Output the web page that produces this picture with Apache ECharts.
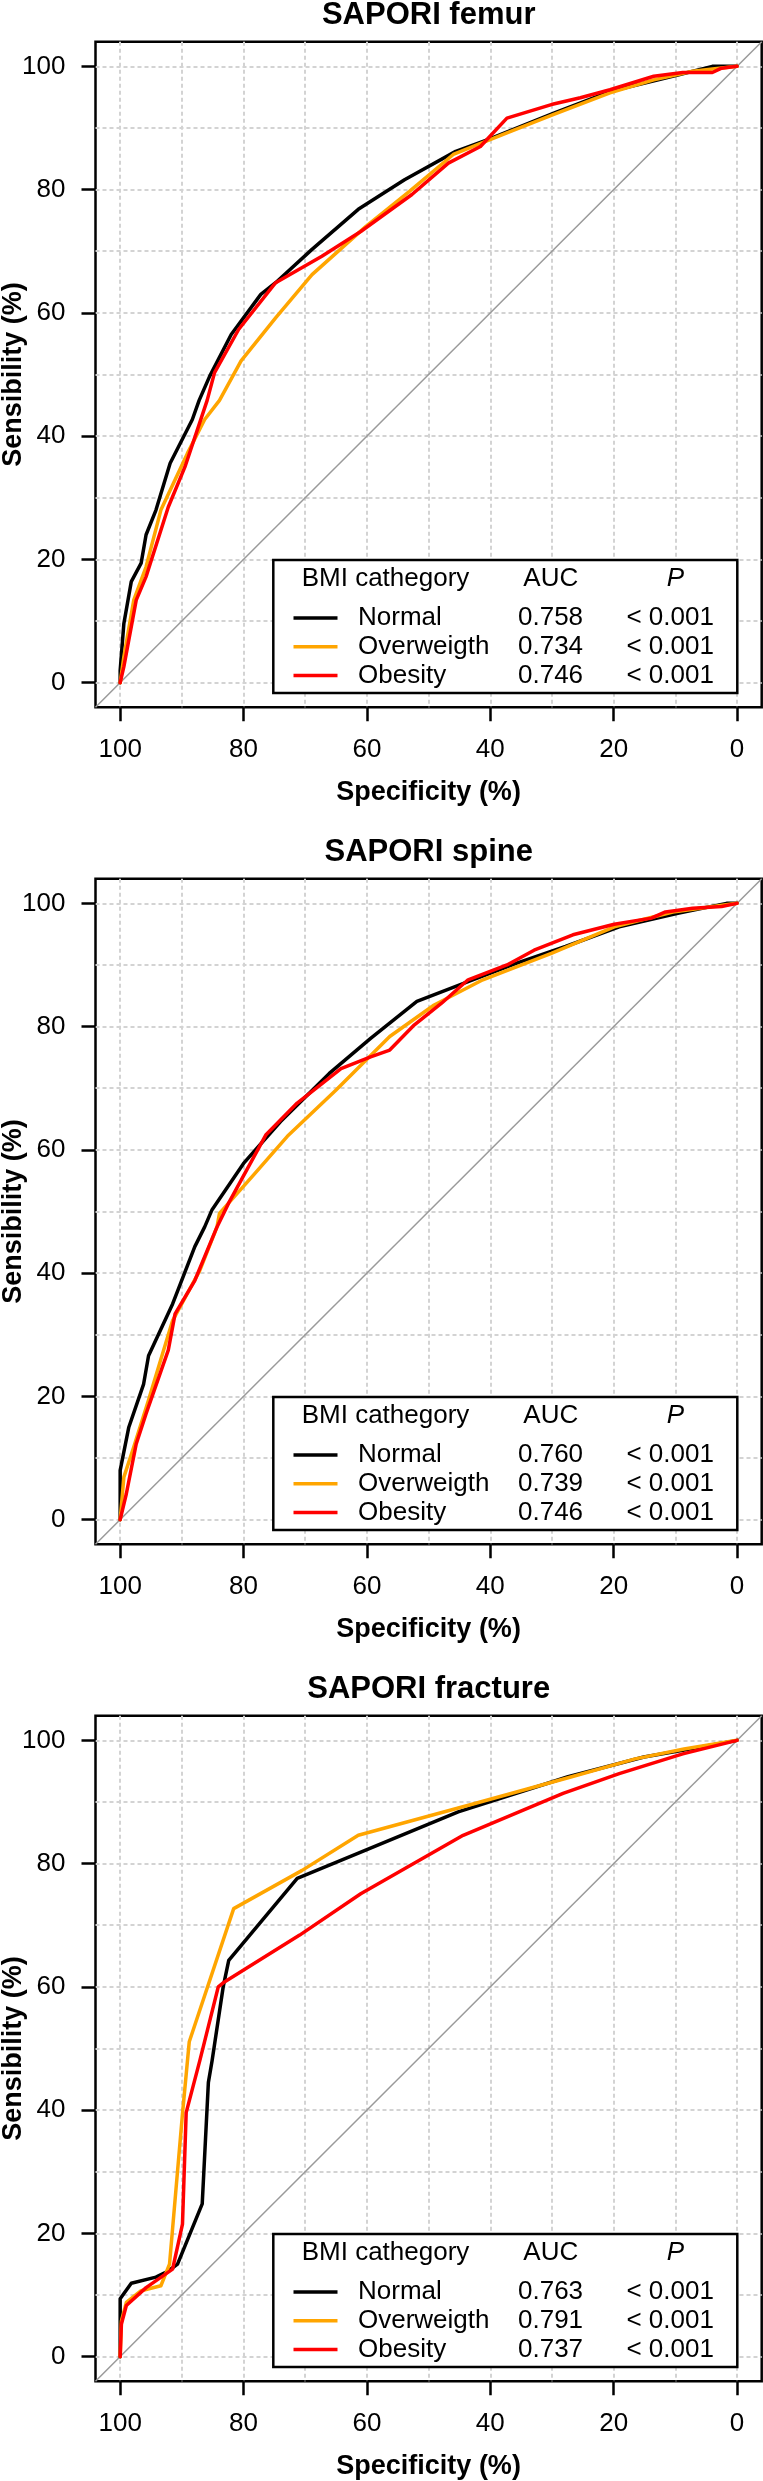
<!DOCTYPE html>
<html><head><meta charset="utf-8">
<script src="https://cdn.jsdelivr.net/npm/echarts@6/dist/echarts.min.js"></script>
<style>html,body{margin:0;padding:0;background:#fff}#chart{width:763px;height:2481px}</style>
</head><body><div id="chart"></div>
<script>
// ---------------- data ----------------
const panelTitles = ['SAPORI femur', 'SAPORI spine', 'SAPORI fracture'];
const groups = ['Normal', 'Overweigth', 'Obesity'];
const legendHeader = ['BMI cathegory', 'AUC', 'P'];
const aucFemur = ['0.758', '0.734', '0.746'];
const aucSpine = ['0.760', '0.739', '0.746'];
const aucFracture = ['0.763', '0.791', '0.737'];
const pFemur = ['< 0.001', '< 0.001', '< 0.001'];
const pSpine = ['< 0.001', '< 0.001', '< 0.001'];
const pFracture = ['< 0.001', '< 0.001', '< 0.001'];
const axisTickValues = [0, 20, 40, 60, 80, 100];
const gridValues = [0, 10, 20, 30, 40, 50, 60, 70, 80, 90, 100];
const diagonal = [[104, -4], [-4, 104]]; // chance line sens = 100 - spec across the axis range

// [specificity %, sensitivity %]
const femurNormal = [[100,0],[100,2],[99.4,9.6],[98.2,16.4],[96.6,19.4],[95.8,24],[94.2,28],[91.9,35.6],[88.3,42.7],[87.2,45.8],[85.5,49.7],[82,56.5],[77.2,63],[74.8,64.9],[68.9,70.3],[61.4,76.8],[53.9,81.6],[45.6,86.2],[40.4,88.1],[29.7,92.4],[20.3,96],[9.6,98.6],[4,100],[0,100]];
const femurOverweight = [[100,0],[99.4,4.2],[97.8,13.4],[95.8,18.8],[93.4,28],[89.1,37.2],[86.3,42.7],[83.9,45.8],[80.4,52.2],[74.8,59.2],[68.9,66.2],[60.2,74],[53.1,79.7],[46,85.7],[37.3,89.2],[29.7,92.2],[20.6,95.7],[13.5,97.8],[7.2,99.2],[0,100]];
const femurObesity = [[100,0],[99.4,2.6],[97.4,13.4],[95.8,17.2],[92.2,28.5],[89.5,35],[85.9,45.8],[84.7,50.3],[80.8,57.3],[74.8,64.9],[67.3,69.2],[61,73.2],[52.7,79.2],[46.8,84.3],[41.6,87],[37.3,91.6],[30.1,93.8],[25.4,94.9],[20.6,96.2],[13.5,98.4],[8.8,99],[4,99],[2.5,99.7],[0,100]];

const spineNormal = [[100,0],[100,8],[98.6,15],[96.2,22],[95.4,26.6],[91.5,35],[87.9,44.3],[86.3,47.5],[85.1,50.3],[80,57.8],[74,64.6],[66.1,72.4],[59.4,78.1],[51.9,84.1],[43.6,87.3],[35.7,90.3],[27.8,93],[19.1,96.2],[9.6,98.4],[1.7,100],[0,100]];
const spineOverweight = [[100,0],[99.4,6.9],[97.8,11.8],[95.4,19.4],[91.5,32.3],[87.1,40.4],[84.3,47.5],[83.9,49.7],[78.4,55.9],[72.9,62.2],[65,69.7],[56.3,78.4],[49.1,83.5],[41.2,87.6],[30.1,91.9],[19.9,96.2],[10.4,98.6],[0,100]];
const spineObesity = [[100,0],[99,4.2],[97.4,12.3],[95.8,17.2],[92.2,27.5],[91.1,33.4],[87.9,38.8],[84.3,47.5],[82.4,51.4],[76.4,62.4],[71.3,67.6],[64.2,73.2],[59.4,75.1],[56.3,76.2],[52.3,80.3],[47.9,83.8],[43.6,87.6],[37.3,90],[32.9,92.4],[26.6,94.9],[19.9,96.6],[13.9,97.6],[11.6,98.6],[7.2,99.2],[2.5,99.5],[0,100]];

const fractureNormal = [[100,0],[100,9.4],[98.2,11.9],[94.2,12.9],[92.2,13.9],[90.7,15],[86.7,24.8],[85.7,44.5],[85.1,48],[83.3,60],[82.4,64.3],[71.3,77.6],[60.2,82.2],[45.2,88.4],[27.4,94.1],[15.1,97.3],[8.8,98.4],[0,100]];
const fractureOverweight = [[100,0],[99.8,5.8],[99,8.8],[96.6,10.7],[93.4,11.5],[92,15],[89.9,39.4],[88.8,51.1],[81.6,72.7],[70.5,78.9],[61.4,84.6],[43.4,89.5],[26.8,94.1],[16.5,97],[8.6,98.6],[0,100]];
const fractureObesity = [[100,0],[99.8,5.3],[99,8.3],[95.8,11.2],[91.5,14.2],[89.9,21.5],[89.3,39.6],[87.1,48],[84.1,60],[83.1,60.8],[70.9,68.4],[61,75.1],[44.4,84.6],[28.2,91.4],[19.1,94.6],[8.8,97.8],[0,100]];

// ---------------- assembly ----------------
const panels = [
  { title: panelTitles[0], curves: [femurNormal, femurOverweight, femurObesity], auc: aucFemur, p: pFemur },
  { title: panelTitles[1], curves: [spineNormal, spineOverweight, spineObesity], auc: aucSpine, p: pSpine },
  { title: panelTitles[2], curves: [fractureNormal, fractureOverweight, fractureObesity], auc: aucFracture, p: pFracture }
];
const colors = ['#000000', '#FFA500', '#FF0000'];
const FONT = '"Liberation Sans", Arial, Helvetica, sans-serif';
const PANEL_H = 837, GL = 95.5, GT = 41.7, GW = 666.2, GH = 665.6;

const grid = [], xAxis = [], yAxis = [], series = [], legend = [], elements = [];
panels.forEach((pn, i) => {
  const off = i * PANEL_H;
  grid.push({ left: GL, top: GT + off, width: GW, height: GH, show: true, borderColor: '#000', borderWidth: 2.5,
              backgroundColor: 'rgba(0,0,0,0)', containLabel: false, outerBoundsMode: 'none' });
  xAxis.push({
    gridIndex: i, type: 'value', inverse: true, min: -4, max: 104, position: 'bottom',
    axisLine: { show: false, onZero: false },
    axisTick: { show: true, inside: false, length: 14, customValues: axisTickValues, lineStyle: { color: '#000', width: 2.5 } },
    axisLabel: { customValues: axisTickValues, margin: 29.5, fontSize: 26, color: '#000', fontFamily: FONT },
    splitLine: { show: false },
    name: 'Specificity (%)', nameLocation: 'middle', nameGap: 72, nameMoveOverlap: false,
    nameTextStyle: { fontSize: 27, fontWeight: 'bold', color: '#000', fontFamily: FONT }
  });
  xAxis.push({
    gridIndex: i, type: 'value', inverse: true, min: -4, max: 104, position: 'top',
    axisLine: { show: false, onZero: false }, axisTick: { show: false, customValues: gridValues }, axisLabel: { show: false },
    splitLine: { show: true, lineStyle: { color: '#d3d3d3', width: 2, type: [4, 3] } }
  });
  yAxis.push({
    gridIndex: i, type: 'value', min: -4, max: 104, position: 'left',
    axisLine: { show: false, onZero: false },
    axisTick: { show: true, inside: false, length: 14, customValues: axisTickValues, lineStyle: { color: '#000', width: 2.5 } },
    axisLabel: { customValues: axisTickValues, margin: 30, fontSize: 26, color: '#000', fontFamily: FONT },
    splitLine: { show: false },
    name: 'Sensibility (%)', nameLocation: 'middle', nameGap: 68, nameMoveOverlap: false,
    nameTextStyle: { fontSize: 27, fontWeight: 'bold', color: '#000', fontFamily: FONT }
  });
  yAxis.push({
    gridIndex: i, type: 'value', min: -4, max: 104, position: 'right',
    axisLine: { show: false, onZero: false }, axisTick: { show: false, customValues: gridValues }, axisLabel: { show: false },
    splitLine: { show: true, lineStyle: { color: '#d3d3d3', width: 2, type: [4, 3] } }
  });
  series.push({
    type: 'line', name: 'chance', xAxisIndex: 2 * i, yAxisIndex: 2 * i, data: diagonal,
    showSymbol: false, silent: true, lineStyle: { color: '#9a9a9a', width: 1.5 }, z: 1
  });
  pn.curves.forEach((c, k) => {
    series.push({
      type: 'line', name: groups[k], xAxisIndex: 2 * i, yAxisIndex: 2 * i, data: c,
      showSymbol: false, silent: true, color: colors[k],
      lineStyle: { color: colors[k], width: 3.5, cap: 'round', join: 'round' }, z: 2 + k
    });
  });
  legend.push({
    orient: 'vertical', left: 293.5, top: 603.65 + off, padding: 0, itemGap: 0,
    itemWidth: 44, itemHeight: 3.5, icon: 'rect', selectedMode: false, z: 20,
    data: groups.map((g, k) => ({ name: g, itemStyle: { color: colors[k] } })),
    formatter: (name) => {
      const k = groups.indexOf(name);
      return '{n|' + name + '}{a|' + pn.auc[k] + '}{p|' + pn.p[k] + '}';
    },
    textStyle: {
      color: '#000', fontFamily: FONT, fontSize: 26, lineHeight: 28.7,
      rich: {
        n: { width: 160, padding: [0, 0, 0, 15.5], fontSize: 26, lineHeight: 28.7, fontFamily: FONT },
        a: { width: 108.4, fontSize: 26, lineHeight: 28.7, fontFamily: FONT },
        p: { fontSize: 26, lineHeight: 28.7, fontFamily: FONT }
      }
    }
  });
  elements.push({ type: 'text', x: 428.7, y: 15.5 + off, z: 20, style: { text: pn.title, font: 'bold 31px ' + FONT, fill: '#000', textAlign: 'center', textVerticalAlign: 'middle' } });
  elements.push({ type: 'rect', z: 5, shape: { x: 273.3, y: 560 + off, width: 464, height: 133 }, style: { fill: '#fff', stroke: '#000', lineWidth: 2.5 } });
  elements.push({ type: 'text', x: 301.7, y: 579 + off, z: 20, style: { text: legendHeader[0], font: '26px ' + FONT, fill: '#000', textAlign: 'left', textVerticalAlign: 'middle' } });
  elements.push({ type: 'text', x: 523.3, y: 579 + off, z: 20, style: { text: legendHeader[1], font: '26px ' + FONT, fill: '#000', textAlign: 'left', textVerticalAlign: 'middle' } });
  elements.push({ type: 'text', x: 666.7, y: 579 + off, z: 20, style: { text: legendHeader[2], font: 'italic 26px ' + FONT, fill: '#000', textAlign: 'left', textVerticalAlign: 'middle' } });
});

const chart = echarts.init(document.getElementById('chart'), null, { renderer: 'canvas' });
chart.setOption({
  animation: false,
  backgroundColor: '#fff',
  grid, xAxis, yAxis, series, legend,
  graphic: { elements }
});
</script></body></html>
